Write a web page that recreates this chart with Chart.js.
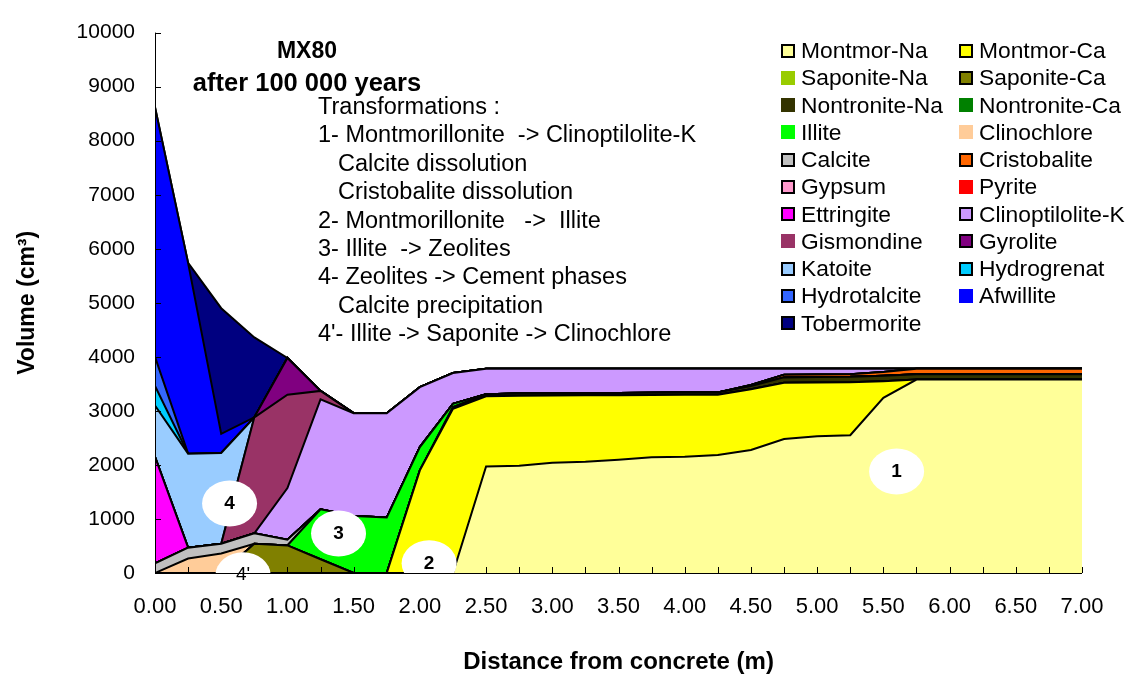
<!DOCTYPE html>
<html>
<head>
<meta charset="utf-8">
<script src="https://cdn.jsdelivr.net/npm/chart.js@4.4.1/dist/chart.umd.min.js"></script>
<style>
body { margin:0; background:#fff; font-family:"Liberation Sans", Arial, sans-serif; }
#wrap { position:relative; width:1130px; height:675px; }
#title { position:absolute; left:157px; top:34px; width:300px; text-align:center; font-weight:bold; font-size:23px; line-height:32px; }
#title span { font-size:25.5px; }
#notes { position:absolute; left:318px; top:92px; font-size:23.5px; line-height:28.4px; white-space:pre; }
#legend { position:absolute; left:781px; top:37px; display:grid; grid-template-columns:178px 178px; font-size:22.8px; }
.lg { height:27.26px; display:flex; align-items:center; white-space:nowrap; }
.lg i { display:inline-block; width:14px; height:14px; box-sizing:border-box; margin-right:6px; }
</style>
</head>
<body>
<div id="wrap">
  <canvas id="chart"></canvas>
  <div id="title">MX80<br><span>after 100 000 years</span></div>
  <div id="notes"></div>
  <div id="legend"></div>
</div>
<script>
// Distance from concrete (m)
const distance = [0,0.25,0.5,0.75,1,1.25,1.5,1.75,2,2.25,2.5,2.75,3,3.25,3.5,3.75,4,4.25,4.5,4.75,5,5.25,5.5,5.75,6,6.25,6.5,6.75,7];

// Volumes (cm3), one array per mineral, stacked bottom to top
const montmorNa     = [0,0,0,0,0,0,0,0,0,0,1970,1985,2040,2060,2095,2140,2150,2185,2275,2480,2530,2550,3240,3580,3580,3580,3580,3580,3580];
const montmorCa     = [0,0,0,0,0,0,0,0,1900,3040,1300,1295,1245,1230,1195,1155,1150,1115,1125,1040,995,980,310,0,0,0,0,0,0];
const saponiteNa    = [0,0,0,0,0,0,0,0,0,0,0,0,0,0,0,0,0,0,0,0,0,0,0,0,0,0,0,0,0];
const saponiteCa    = [0,0,0,540,510,255,0,0,0,0,0,0,0,0,0,0,0,0,0,0,0,0,0,0,0,0,0,0,0];
const nontroniteNa  = [0,0,0,0,0,0,0,0,0,30,40,40,40,40,40,40,40,40,60,100,100,100,100,100,100,100,100,100,100];
const nontroniteCa  = [0,0,0,0,0,0,0,0,0,0,0,0,0,0,0,0,0,0,0,0,0,0,0,0,0,0,0,0,0];
const illite        = [0,0,0,0,0,925,1056,1026,430,60,0,0,0,0,0,0,0,0,0,0,0,0,0,0,0,0,0,0,0];
const clinochlore   = [0,268,360,0,0,0,0,0,0,0,0,0,0,0,0,0,0,0,0,0,0,0,0,0,0,0,0,0,0];
const calcite       = [180,200,180,195,105,0,0,0,0,0,0,0,0,0,0,0,0,0,0,0,0,0,0,0,0,0,0,0,0];
const cristobalite  = [0,0,0,0,0,0,0,0,0,0,0,0,0,0,0,0,0,0,20,50,50,50,70,100,100,100,100,100,100];
const gypsum        = [0,0,0,0,0,0,0,0,0,0,0,0,0,0,0,0,0,0,0,0,0,0,0,0,0,0,0,0,0];
const pyrite        = [0,0,0,0,0,0,0,0,0,0,0,0,0,0,0,0,0,0,0,0,0,0,0,0,0,0,0,0,0];
const ettringite    = [1970,0,0,0,0,0,0,0,0,0,0,0,0,0,0,0,0,0,0,0,0,0,0,0,0,0,0,0,0];
const clinoptilolite= [0,0,0,0,957,2032,1901,1931,1110,570,470,460,455,450,450,445,440,440,300,110,105,100,60,0,0,0,0,0,0];
const gismondine    = [0,0,0,2145,1728,158,0,0,0,0,0,0,0,0,0,0,0,0,0,0,0,0,0,0,0,0,0,0,0];
const gyrolite      = [0,0,0,0,680,0,0,0,0,0,0,0,0,0,0,0,0,0,0,0,0,0,0,0,0,0,0,0,0];
const katoite       = [950,1740,1680,0,0,0,0,0,0,0,0,0,0,0,0,0,0,0,0,0,0,0,0,0,0,0,0,0,0];
const hydrogrenat   = [360,0,0,0,0,0,0,0,0,0,0,0,0,0,0,0,0,0,0,0,0,0,0,0,0,0,0,0,0];
const hydrotalcite  = [540,0,0,0,0,0,0,0,0,0,0,0,0,0,0,0,0,0,0,0,0,0,0,0,0,0,0,0,0];
const afwillite     = [4620,3530,355,0,0,0,0,0,0,0,0,0,0,0,0,0,0,0,0,0,0,0,0,0,0,0,0,0,0];
const tobermorite   = [0,0,2325,1480,0,0,0,0,0,0,0,0,0,0,0,0,0,0,0,0,0,0,0,0,0,0,0,0,0];

const seriesNames = ['Montmor-Na','Montmor-Ca','Saponite-Na','Saponite-Ca','Nontronite-Na','Nontronite-Ca','Illite','Clinochlore','Calcite','Cristobalite','Gypsum','Pyrite','Ettringite','Clinoptilolite-K','Gismondine','Gyrolite','Katoite','Hydrogrenat','Hydrotalcite','Afwillite','Tobermorite'];
const seriesValues = [montmorNa,montmorCa,saponiteNa,saponiteCa,nontroniteNa,nontroniteCa,illite,clinochlore,calcite,cristobalite,gypsum,pyrite,ettringite,clinoptilolite,gismondine,gyrolite,katoite,hydrogrenat,hydrotalcite,afwillite,tobermorite];
const seriesColors = ['#FFFF99','#FFFF00','#99CC00','#808000','#333300','#008000','#00FF00','#FFCC99','#C0C0C0','#FF6600','#FF99CC','#FF0000','#FF00FF','#CC99FF','#993366','#800080','#99CCFF','#00CCFF','#3366FF','#0000FF','#000080'];
const legendBorder = [1,1,0,1,0,0,0,0,1,1,1,0,1,1,0,1,1,1,1,0,1];

const xTicks = [0,0.5,1,1.5,2,2.5,3,3.5,4,4.5,5,5.5,6,6.5,7];
const xMinorStep = 0.25;
const yTicks = [0,1000,2000,3000,4000,5000,6000,7000,8000,9000,10000];

const notes = [
  ['Transformations :', 0],
  ['1- Montmorillonite  -> Clinoptilolite-K', 0],
  ['Calcite dissolution', 1],
  ['Cristobalite dissolution', 1],
  ['2- Montmorillonite   ->  Illite', 0],
  ['3- Illite  -> Zeolites', 0],
  ['4- Zeolites -> Cement phases', 0],
  ['Calcite precipitation', 1],
  ["4'- Illite -> Saponite -> Clinochlore", 0]
];

// zone markers: label, x (m), y (cm3), bold
const markers = [
  ['1', 5.6, 1880, true],
  ['2', 2.07, 180, true],
  ['3', 1.386, 730, true],
  ['4', 0.563, 1285, true],
  ["4'", 0.665, -40, false]
];

// Notes and legend
document.getElementById('notes').innerHTML = notes.map(n =>
  `<div style="padding-left:${n[1] ? 20 : 0}px">${n[0]}</div>`).join('');
document.getElementById('legend').innerHTML = seriesNames.map((name, i) =>
  `<div class="lg"><i style="background:${seriesColors[i]};${legendBorder[i] ? 'border:2px solid #000' : ''}"></i>${name}</div>`).join('');

// Inside tick marks + axis lines
const innerTicks = {
  id: 'innerTicks',
  afterDatasetsDraw(chart) {
    const {ctx, chartArea, scales: {x, y}} = chart;
    ctx.save();
    ctx.strokeStyle = '#000';
    ctx.lineWidth = 1;
    ctx.beginPath();
    for (let v = 0; v <= 7 + 1e-6; v += xMinorStep) {
      const px = Math.round(x.getPixelForValue(v)) + 0.5;
      ctx.moveTo(px, chartArea.bottom);
      ctx.lineTo(px, chartArea.bottom - 6);
    }
    yTicks.forEach(v => {
      const py = Math.round(y.getPixelForValue(v)) + 0.5;
      ctx.moveTo(chartArea.left, py);
      ctx.lineTo(chartArea.left + 6, py);
    });
    ctx.moveTo(chartArea.left + 0.5, chartArea.top);
    ctx.lineTo(chartArea.left + 0.5, chartArea.bottom + 0.5);
    ctx.lineTo(chartArea.right, chartArea.bottom + 0.5);
    ctx.stroke();
    ctx.restore();
  }
};

// White ellipses with zone numbers
const zoneMarkers = {
  id: 'zoneMarkers',
  afterDatasetsDraw(chart) {
    const {ctx, chartArea, scales: {x, y}} = chart;
    markers.forEach(m => {
      const cx = x.getPixelForValue(m[1]);
      const cy = y.getPixelForValue(m[2]);
      ctx.save();
      ctx.beginPath();
      ctx.rect(chartArea.left, chartArea.top, chartArea.right - chartArea.left, chartArea.bottom - chartArea.top);
      ctx.clip();
      ctx.beginPath();
      ctx.ellipse(cx, cy, 27.5, 23, 0, 0, Math.PI * 2);
      ctx.fillStyle = '#fff';
      ctx.fill();
      ctx.restore();
      ctx.save();
      ctx.fillStyle = '#000';
      ctx.font = (m[3] ? 'bold ' : '') + '19px "Liberation Sans", Arial, sans-serif';
      ctx.textAlign = 'center';
      ctx.textBaseline = 'middle';
      ctx.fillText(m[0], cx, cy);
      ctx.restore();
    });
  }
};

new Chart(document.getElementById('chart'), {
  type: 'line',
  data: {
    datasets: seriesNames.map((name, i) => ({
      label: name,
      data: distance.map((d, j) => ({x: d, y: seriesValues[i][j]})),
      backgroundColor: seriesColors[i],
      borderColor: '#000',
      borderWidth: 2,
      pointRadius: 0,
      tension: 0,
      fill: i === 0 ? 'origin' : '-1'
    }))
  },
  options: {
    responsive: true,
    maintainAspectRatio: false,
    animation: false,
    layout: { padding: { left: 0, right: 48, top: 24, bottom: 0 } },
    plugins: { legend: { display: false }, tooltip: { enabled: false } },
    scales: {
      x: {
        type: 'linear', min: 0, max: 7,
        afterFit: s => { s.height = 102; },
        afterBuildTicks: s => { s.ticks = xTicks.map(v => ({value: v})); },
        grid: { display: false, drawTicks: false },
        border: { display: false },
        ticks: { color: '#000', padding: 21, font: { size: 22, family: '"Liberation Sans", Arial, sans-serif' },
                 callback: v => Number(v).toFixed(2), maxRotation: 0, autoSkip: false },
        title: { display: true, text: 'Distance from concrete (m)', color: '#000',
                 padding: { top: 0, bottom: -2 },
                 font: { size: 24, weight: 'bold', family: '"Liberation Sans", Arial, sans-serif' } }
      },
      y: {
        stacked: true, min: 0, max: 10000,
        afterFit: s => { s.width = 155; },
        afterBuildTicks: s => { s.ticks = yTicks.map(v => ({value: v})); },
        grid: { display: false, drawTicks: false },
        border: { display: false },
        ticks: { color: '#000', padding: 20, font: { size: 21, family: '"Liberation Sans", Arial, sans-serif' },
                 callback: v => String(v) },
        title: { display: true, text: 'Volume (cm³)', color: '#000',
                 padding: { top: 14, bottom: 0 },
                 font: { size: 23, weight: 'bold', family: '"Liberation Sans", Arial, sans-serif' } }
      }
    }
  },
  plugins: [innerTicks, zoneMarkers]
});
</script>
</body>
</html>
